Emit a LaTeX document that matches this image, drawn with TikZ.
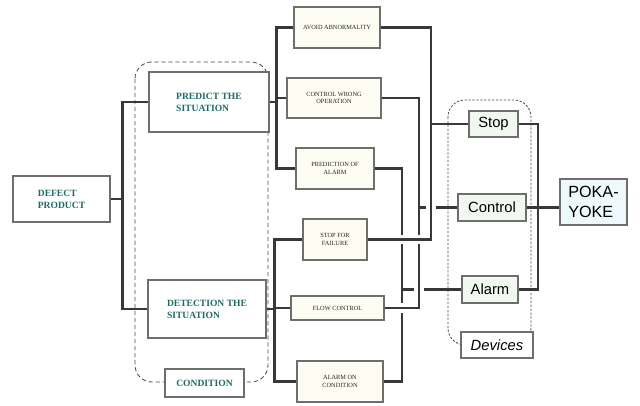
\documentclass[tikz,border=0pt]{standalone}
\usepackage{fontspec}
\setmainfont{Liberation Serif}
\setsansfont{Liberation Sans}
\usepackage{xcolor}
\usetikzlibrary{positioning}
\usetikzlibrary{calc}

\definecolor{linegray}{HTML}{383838}
\definecolor{boxgray}{HTML}{6E6E6E}
\definecolor{framegray}{HTML}{4A4A4A}
\definecolor{tealtext}{HTML}{1E6B66}
\definecolor{creamfill}{HTML}{FDFDF3}
\definecolor{greenfill}{HTML}{F1F8EF}
\definecolor{cyanfill}{HTML}{EEF9FB}

\newcommand{\pxu}{0.025cm}

\tikzset{
  bus/.style={draw=linegray, line width=1.8pt},
  bridge/.style={bus, preaction={draw=white, line width=7pt, shorten <=2.5pt, shorten >=2.5pt}},
  mainbox/.style={draw=boxgray, line width=0.8pt, fill=white, inner sep=0pt, align=left,
    text=tealtext, font=\fontsize{6.8}{8.4}\selectfont\bfseries},
  subbox/.style={draw=boxgray, line width=0.8pt, fill=creamfill, inner sep=0pt, align=center,
    text=black!85, font=\fontsize{4.5}{5.5}\selectfont},
  devbox/.style={draw=boxgray, line width=0.8pt, fill=greenfill, inner sep=0pt,
    font=\sffamily\fontsize{10.5}{12}\selectfont},
}

\begin{document}
\begin{tikzpicture}[
    x=0.025cm, y=-0.025cm,
    >=stealth,
  ]

  \useasboundingbox (0,0) rectangle (640,406);

  % Dashed frames
  \draw[framegray, line width=0.6pt, dash pattern=on 3pt off 2pt, rounded corners=12pt]
    (135,62) rectangle (268,382);
  \draw[framegray, line width=0.6pt, dash pattern=on 1.6pt off 1.2pt, rounded corners=12pt]
    (448,100) rectangle (531,345);

  % Left column
  \node[mainbox, minimum width=97*\pxu, minimum height=46*\pxu] (defect) at (61.5,199) {DEFECT\\PRODUCT};
  \node[mainbox, minimum width=120*\pxu, minimum height=60*\pxu] (predict) at (209,102) {PREDICT THE\\SITUATION};
  \node[mainbox, minimum width=118*\pxu, minimum height=58*\pxu] (detect) at (207,309) {DETECTION THE\\SITUATION};
  \node[mainbox, align=center, minimum width=79*\pxu, minimum height=28*\pxu] (condition) at (204.5,383) {CONDITION};

  % Middle column
  \node[subbox, minimum width=86*\pxu, minimum height=41*\pxu] (avoid) at (337,27.5) {AVOID ABNORMALITY};
  \node[subbox, minimum width=94*\pxu, minimum height=40*\pxu] (ctrlwrong) at (334,98) {CONTROL WRONG\\OPERATION};
  \node[subbox, minimum width=78*\pxu, minimum height=41*\pxu] (predalarm) at (335,168.5) {PREDICTION OF\\ALARM};
  \node[subbox, minimum width=64*\pxu, minimum height=41*\pxu] (stopfail) at (335,239.5) {STOP FOR\\FAILURE};
  \node[subbox, minimum width=93*\pxu, minimum height=24*\pxu] (flowctrl) at (337.5,308) {FLOW CONTROL};
  \node[subbox, minimum width=86*\pxu, minimum height=41*\pxu] (alarmcond) at (340,381.5) {ALARM ON\\CONDITION};

  % Devices
  \node[devbox, minimum width=49*\pxu, minimum height=26*\pxu] (stop) at (493.5,124) {Stop};
  \node[devbox, minimum width=68*\pxu, minimum height=27*\pxu] (control) at (492,207.5) {Control};
  \node[devbox, minimum width=56*\pxu, minimum height=27*\pxu] (alarm) at (490,289.5) {Alarm};
  \node[devbox, fill=white, minimum width=72*\pxu, minimum height=26*\pxu,
    font=\sffamily\itshape\fontsize{10.5}{12}\selectfont] (devices) at (497,345) {Devices};
  \node[devbox, fill=cyanfill, align=left, minimum width=67*\pxu, minimum height=46*\pxu,
    font=\sffamily\fontsize{11.5}{14}\selectfont] (poka) at (593.5,202) {POKA-\\YOKE};

  % Tree on the left
  \draw[bus] (defect.east) -- ++(12,0) coordinate (lbus);
  \draw[bus] (predict.west) -| (lbus) |- (detect.west);

  \draw[bus] (predict.east) -- ++(7,0) coordinate (pbus);
  \draw[bus] (avoid.west) -| (pbus) |- (predalarm.west);
  \draw[bus] (ctrlwrong.west) -- (ctrlwrong.west -| pbus);

  \draw[bus] (detect.east) -- ++(8,0) coordinate (dbus);
  \draw[bus] (stopfail.west) -| (dbus) |- (alarmcond.west);
  \draw[bus] (flowctrl.west) -- (flowctrl.west -| dbus);

  % Buses to the devices
  \coordinate (abus) at (402,289.5);
  \coordinate (cbus) at (419,207.5);
  \coordinate (sbus) at (431,124);

  \draw[bus] (predalarm.east) -| (abus) |- (alarmcond.east);
  \draw[bus] (abus) -- (alarm.west);

  \draw[bridge] (ctrlwrong.east) -| (cbus) |- (flowctrl.east);
  \draw[bus] (cbus) -- (control.west);

  \draw[bridge] (avoid.east) -| (sbus) |- (stopfail.east);
  \draw[bus] (sbus) -- (stop.west);

  % Right bus
  \coordinate (rbus) at (538,207.5);
  \draw[bus] (stop.east) -| (rbus) |- (alarm.east);
  \draw[bus] (control.east) -- (control.east -| poka.west);

\end{tikzpicture}
\end{document}
